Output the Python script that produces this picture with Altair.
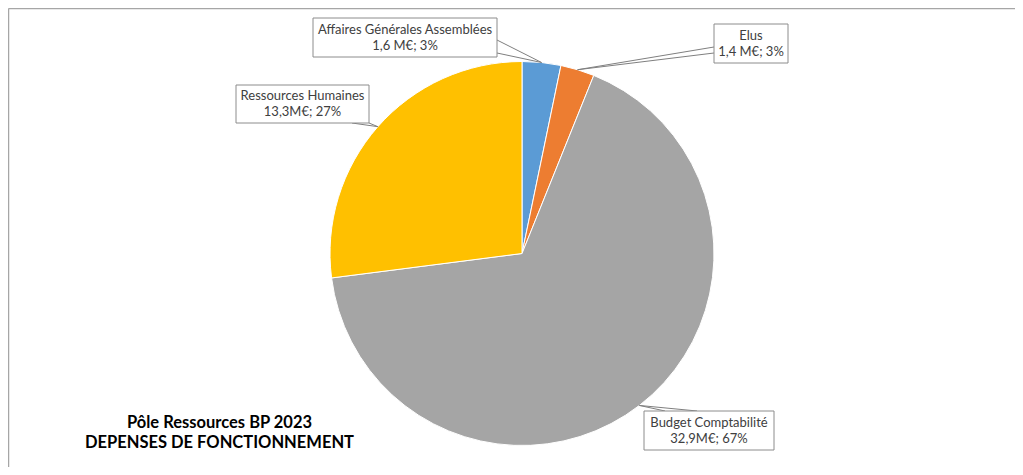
import math
import altair as alt
import pandas as pd

# ---- data ----
categories = ["Affaires Générales Assemblées", "Elus", "Budget Comptabilité", "Ressources Humaines"]
values = [1.6, 1.4, 32.9, 13.3]
label_line2 = ["1,6 M€; 3%", "1,4 M€; 3%", "32,9M€; 67%", "13,3M€; 27%"]
label_line1 = ["Affaires Générales Assemblées", "Elus", "Budget Comptabilité", "Ressources Humaines"]
colors = ["#5B9BD5", "#ED7D31", "#A5A5A5", "#FFC000"]
title_lines = ["Pôle Ressources BP 2023", "DEPENSES DE FONCTIONNEMENT"]

# ---- layout (chart pixel coordinates) ----
W, H = 1007, 459
OFF = 8  # page margin
CX, CY, R = 522 - OFF, 253.5 - OFF, 192
# label box centers / sizes (page coords)
box_cx = [405, 751, 709, 302.5]
box_cy = [37.5, 43.5, 430.5, 104]
box_w = [184, 74, 130, 133]
box_h = [39, 39, 39, 38]
# leader wedge anchors on the box (page coords)
anchor_a = [(497, 40), (714, 47), (665, 411), (352, 123)]
anchor_b = [(497, 53), (714, 53), (697, 411), (369, 123)]

pie_df = pd.DataFrame({"cat": categories, "value": values, "order": list(range(len(values)))})

# slice middle points on the arc (derived from data)
total = sum(values)
cum = 0
tips = []
for v in values:
    mid = (cum + v / 2) / total * 2 * math.pi
    tips.append((CX + R * math.sin(mid), CY - R * math.cos(mid)))
    cum += v

rows = []
for i in range(len(values)):
    for a in (anchor_a[i], anchor_b[i]):
        rows.append({"x": tips[i][0], "y": tips[i][1], "x2": a[0] - OFF, "y2": a[1] - OFF})
lead_df = pd.DataFrame(rows)

box_df = pd.DataFrame({
    "x": [c - w / 2 - OFF for c, w in zip(box_cx, box_w)],
    "x2": [c + w / 2 - OFF for c, w in zip(box_cx, box_w)],
    "y": [c - h / 2 - OFF for c, h in zip(box_cy, box_h)],
    "y2": [c + h / 2 - OFF for c, h in zip(box_cy, box_h)],
})

trows = []
for i in range(len(values)):
    trows.append({"x": box_cx[i] - OFF, "y": box_cy[i] - 8 - OFF, "t": label_line1[i]})
    trows.append({"x": box_cx[i] - OFF, "y": box_cy[i] + 8 - OFF, "t": label_line2[i]})
text_df = pd.DataFrame(trows)

title_df = pd.DataFrame({"x": [219.5 - OFF, 219.5 - OFF], "y": [423 - OFF, 443 - OFF], "t": title_lines})

border_df = pd.DataFrame({"x": [0.5, 0.5], "y": [0.5, 0.5], "x2": [W, 0.5], "y2": [0.5, H]})

X = lambda f: alt.X(f, type="quantitative", scale=None, axis=None)
Y = lambda f: alt.Y(f, type="quantitative", scale=None, axis=None)

pie = alt.Chart(pie_df).mark_arc(outerRadius=R, stroke="white", strokeWidth=1).encode(
    theta=alt.Theta("value:Q", stack=True),
    color=alt.Color("cat:N", scale=alt.Scale(domain=categories, range=colors), legend=None),
    order=alt.Order("order:Q"),
    x=alt.value(CX), y=alt.value(CY),
)

leaders = alt.Chart(lead_df).mark_rule(color="#7F7F7F", strokeWidth=1).encode(
    x=X("x"), y=Y("y"), x2="x2", y2="y2")

boxes = alt.Chart(box_df).mark_rect(fill="white", stroke="#8C8C8C", strokeWidth=1).encode(
    x=X("x"), x2="x2", y=Y("y"), y2="y2")

texts = alt.Chart(text_df).mark_text(font="Lato", fontSize=13, color="#404040", align="center", baseline="middle").encode(
    x=X("x"), y=Y("y"), text="t:N")

titles = alt.Chart(title_df).mark_text(font="Lato", fontSize=16.5, fontWeight="bold", color="#000000", align="center", baseline="middle").encode(
    x=X("x"), y=Y("y"), text="t:N")

border = alt.Chart(border_df).mark_rule(color="#A6A6A6", strokeWidth=1.5).encode(
    x=X("x"), y=Y("y"), x2="x2", y2="y2")

chart = alt.layer(border, pie, leaders, boxes, texts, titles).properties(
    width=W, height=H, autosize=alt.AutoSizeParams(type="none"), padding=0
).configure_view(stroke=None)

chart.save("out.html", embed_options={"renderer": "svg", "actions": False})
